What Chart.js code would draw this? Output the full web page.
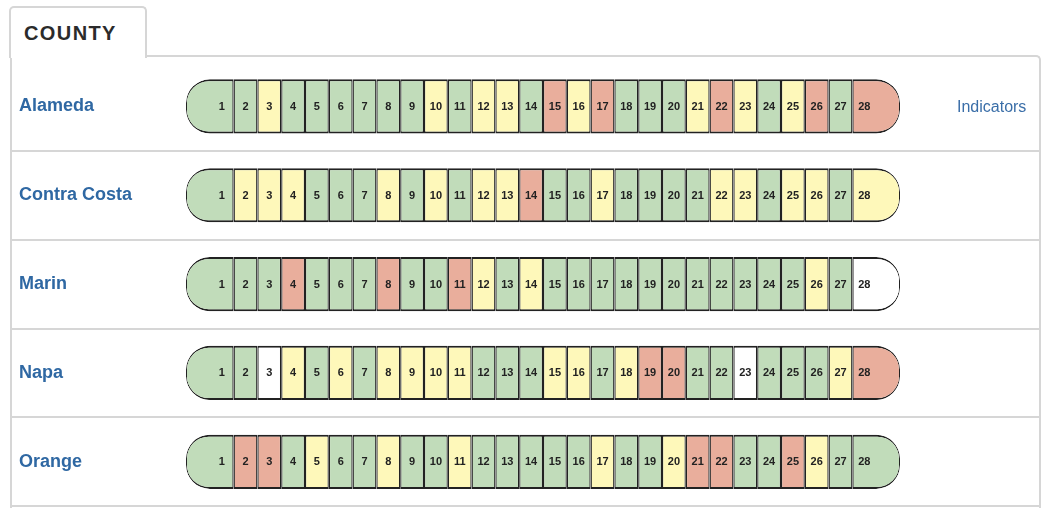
<!DOCTYPE html>
<html>
<head>
<meta charset="utf-8">
<script src="https://cdn.jsdelivr.net/npm/chart.js@4/dist/chart.umd.min.js"></script>
<style>
  html, body { margin: 0; padding: 0; background: #fff; }
  body { width: 1044px; height: 508px; position: relative; overflow: hidden; font-family: "Liberation Sans", Arial, sans-serif; }
  #box { position: absolute; left: 10px; top: 55px; width: 1027px; height: 480px;
         border: 2px solid #d6d6d6; border-bottom: none; border-top-right-radius: 5px; }
  #tab { position: absolute; left: 9px; top: 6px; width: 134px; height: 50px;
         border: 2px solid #d6d6d6; border-bottom: none; border-radius: 5px 5px 0 0; background: #fff;
         box-sizing: content-box; z-index: 2; }
  #tab span { position: absolute; left: 13px; top: 14px; font-weight: bold; font-size: 20px; line-height: 22px;
              letter-spacing: 1.4px; color: #2b2b2b; }
  #wrap { position: absolute; left: 0; top: 0; width: 1044px; height: 520px; z-index: 3; }
</style>
</head>
<body>
<div id="box"></div>
<div id="tab"><span>COUNTY</span></div>
<div id="wrap"><canvas id="chart"></canvas></div>
<script>
const counties = ["Alameda", "Contra Costa", "Marin", "Napa", "Orange"];
const indicators = ["1", "2", "3", "4", "5", "6", "7", "8", "9", "10", "11", "12", "13", "14",
                    "15", "16", "17", "18", "19", "20", "21", "22", "23", "24", "25", "26", "27", "28"];
// G = green, Y = yellow, R = red, W = no data
const alameda     = ["G","G","Y","G","G","G","G","G","G","Y","G","Y","Y","G","R","Y","R","G","G","G","Y","R","Y","G","Y","R","G","R"];
const contraCosta = ["G","Y","Y","Y","G","G","G","Y","G","Y","G","Y","Y","R","G","G","Y","G","G","G","G","Y","Y","G","Y","Y","G","Y"];
const marin       = ["G","G","G","R","G","G","G","R","G","G","R","Y","G","Y","G","G","G","G","G","G","G","G","G","G","G","Y","G","W"];
const napa        = ["G","G","W","Y","G","Y","G","Y","Y","Y","Y","G","G","G","Y","Y","G","Y","R","R","G","G","W","G","G","G","Y","R"];
const orange      = ["G","R","R","G","Y","G","G","Y","G","G","Y","G","G","G","G","G","Y","G","G","Y","R","R","G","G","R","Y","G","G"];
// width of each cell in units (the end caps are double)
const cellWidths  = [2,1,1,1,1,1,1,1,1,1,1,1,1,1,1,1,1,1,1,1,1,1,1,1,1,1,1,2];

const rows = [alameda, contraCosta, marin, napa, orange];
const palette = { G: "#c1dcba", Y: "#fef8ba", R: "#e9ae9c", W: "#ffffff" };
const lineColor = c => c.index === 0 ? "rgba(0,0,0,0)" : "#d6d6d6";

const datasets = indicators.map((name, i) => {
    const first = i === 0, last = i === indicators.length - 1;
    return {
        label: name,
        data: counties.map(() => cellWidths[i]),
        backgroundColor: rows.map(r => palette[r[i]]),
        borderColor: "#222",
        borderWidth: { top: 2, bottom: 2, left: first ? 1 : 1.3, right: last ? 1 : 1.3 },
        borderSkipped: false,
        borderRadius: {
            topLeft: first ? 30 : 0, bottomLeft: first ? 30 : 0,
            topRight: last ? 30 : 0, bottomRight: last ? 30 : 0
        },
        inflateAmount: 0,
        barPercentage: 1,
        categoryPercentage: 0.61
    };
});

const cellLabels = {
    id: "cellLabels",
    afterDatasetsDraw(chart) {
        const ctx = chart.ctx;
        const xs = chart.scales.x;
        const unit = xs.getPixelForValue(1) - xs.getPixelForValue(0);
        ctx.save();
        ctx.font = "bold 11px 'Liberation Sans', Arial, sans-serif";
        ctx.fillStyle = "#222";
        ctx.textAlign = "center";
        ctx.textBaseline = "middle";
        chart.data.datasets.forEach((ds, i) => {
            chart.getDatasetMeta(i).data.forEach(el => {
                let cx = (el.x + el.base) / 2;
                if (i === 0) cx = el.x - unit / 2;
                if (i === indicators.length - 1) cx = el.base + unit / 2;
                ctx.fillText(ds.label, cx, el.y + 0.5);
            });
        });
        // side link on the first row
        ctx.font = "16px 'Liberation Sans', Arial, sans-serif";
        ctx.fillStyle = "#3a6ea8";
        ctx.textAlign = "left";
        ctx.fillText("Indicators", 957, chart.scales.y.getPixelForValue(0) + 1);
        ctx.restore();
    }
};

new Chart(document.getElementById("chart"), {
    type: "bar",
    data: { labels: counties, datasets: datasets },
    options: {
        indexAxis: "y",
        responsive: true,
        maintainAspectRatio: false,
        animation: false,
        events: [],
        layout: { padding: { left: 19, right: 4, top: 62, bottom: 2 } },
        plugins: { legend: { display: false }, tooltip: { enabled: false } },
        scales: {
            x: { stacked: true, min: 0, max: 30, display: false },
            y: {
                stacked: true,
                offset: true,
                border: { display: false },
                grid: { offset: true, color: lineColor, lineWidth: 2, tickLength: 175, drawOnChartArea: true },
                ticks: {
                    crossAlign: "far",
                    color: "#2f68a3",
                    font: { family: "'Liberation Sans', Arial, sans-serif", size: 18, weight: "bold" }
                },
                afterFit(s) { s.width = 167; }
            },
            y2: {
                type: "category",
                position: "right",
                labels: counties,
                offset: true,
                border: { display: false },
                grid: { offset: true, color: lineColor, lineWidth: 2, tickLength: 140, drawOnChartArea: false },
                ticks: { display: false },
                afterFit(s) { s.width = 140; }
            }
        }
    },
    plugins: [cellLabels]
});
</script>
</body>
</html>
